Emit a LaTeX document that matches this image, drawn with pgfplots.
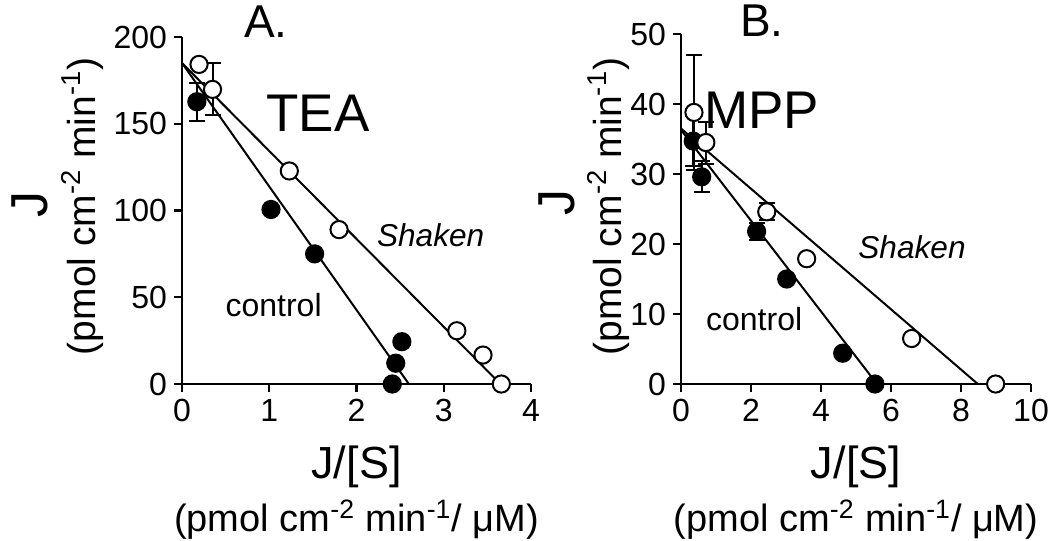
\documentclass[border=0pt]{standalone}
\usepackage{fontspec}
\setmainfont{Liberation Sans}
\usepackage{pgfplots}
\pgfplotsset{compat=1.18}

\newcommand\fs[1]{\fontsize{#1}{#1}\selectfont}

\pgfplotsset{
  panel/.style={
    scale only axis, clip=false,
    anchor=south west,
    axis lines=left, axis line style={-, line width=1.2pt},
    xmin=0, ymin=0,
    tick align=outside, major tick length=4pt,
    tick style={line width=1.2pt, black},
    tick label style={font=\fs{16}},
    /pgf/number format/assume math mode=true,
  },
  fitline/.style={no markers, line width=1pt, black},
  open/.style={only marks, mark=*, mark size=4.3pt,
    mark options={fill=white, draw=black, line width=1pt}},
  filled/.style={only marks, mark=*, mark size=4.3pt,
    mark options={fill=black, draw=black, line width=1pt}},
  errs/.style={error bars/.cd, y dir=both, y explicit,
    error bar style={line width=1pt, black},
    error mark options={rotate=90, line width=1pt, mark size=4pt, black}},
}

\begin{document}
\begin{tikzpicture}
\useasboundingbox (0,0) rectangle (525pt,-270.5pt);

% A. TEA
\begin{axis}[panel, at={(91pt,-192pt)}, width=174.5pt, height=173.5pt,
  xmax=4, ymax=200, xtick={0,1,2,3,4}, ytick={0,50,100,150,200}]
\addplot[fitline] coordinates {(0,185) (2.6,0)};
\addplot[fitline] coordinates {(0,185) (3.65,0)};
% control
\addplot[filled, errs] coordinates {(0.17,162.7) +- (0,11)};
\addplot[filled] coordinates {(1.02,100.6) (1.52,75) (2.41,0) (2.45,12) (2.52,24.4)};
% shaken
\addplot[open] coordinates {(0.195,184.2)};
\addplot[open, errs] coordinates {(0.35,169.8) +- (0,15)};
\addplot[open] coordinates {(1.23,122.8) (1.80,89) (3.15,30.7) (3.45,16.7) (3.66,0)};
\node[font=\fs{23}] at (axis cs:0.96,209) {A.};
\node[font=\fs{26.5}] at (axis cs:1.56,156) {TEA};
\node[font=\fs{15.8}\itshape] at (axis cs:2.85,86) {Shaken};
\node[font=\fs{16}] at (axis cs:1.05,45.5) {control};
\node[rotate=90, font=\fs{26}] at (rel axis cs:-0.435,0.516) {J};
\node[rotate=90, anchor=base, font=\fs{19.5}] at (rel axis cs:-0.249,0.512) {(pmol cm\textsuperscript{-2} min\textsuperscript{-1})};
\node[anchor=base, font=\fs{22.5}] at (rel axis cs:0.5,-0.271) {J/[S]};
\node[anchor=base, font=\fs{19}] at (rel axis cs:0.5,-0.424) {(pmol cm\textsuperscript{-2} min\textsuperscript{-1}/ μM)};
\end{axis}

% B. MPP
\begin{axis}[panel, at={(340.5pt,-192pt)}, width=175pt, height=175pt,
  xmax=10, ymax=50, xtick={0,2,4,6,8,10}, ytick={0,10,20,30,40,50}]
\addplot[fitline] coordinates {(0,36.3) (5.6,0)};
\addplot[fitline] coordinates {(0,36.5) (8.48,0)};
% control
\addplot[filled, errs] coordinates {(0.35,34.7) +- (0,3.6) (0.59,29.6) +- (0,2.2) (2.16,21.8) +- (0,1.2)};
\addplot[filled] coordinates {(3.02,15) (4.62,4.4) (5.54,0)};
% shaken
\addplot[open, errs] coordinates {(0.37,38.8) +- (0,8.2) (0.71,34.5) +- (0,3) (2.45,24.6) +- (0,1.2)};
\addplot[open] coordinates {(3.59,17.9) (6.59,6.5) (8.99,0)};
\node[font=\fs{23}] at (axis cs:2.31,51.9) {B.};
\node[font=\fs{26.5}] at (axis cs:2.31,39.1) {MPP};
\node[font=\fs{15.8}\itshape] at (axis cs:6.6,19.6) {Shaken};
\node[font=\fs{16}] at (axis cs:2.09,9.3) {control};
\node[rotate=90, font=\fs{26}] at (rel axis cs:-0.354,0.52) {J};
\node[rotate=90, anchor=base, font=\fs{19.5}] at (rel axis cs:-0.169,0.507) {(pmol cm\textsuperscript{-2} min\textsuperscript{-1})};
\node[anchor=base, font=\fs{22.5}] at (rel axis cs:0.5,-0.269) {J/[S]};
\node[anchor=base, font=\fs{19}] at (rel axis cs:0.5,-0.42) {(pmol cm\textsuperscript{-2} min\textsuperscript{-1}/ μM)};
\end{axis}
\end{tikzpicture}
\end{document}
